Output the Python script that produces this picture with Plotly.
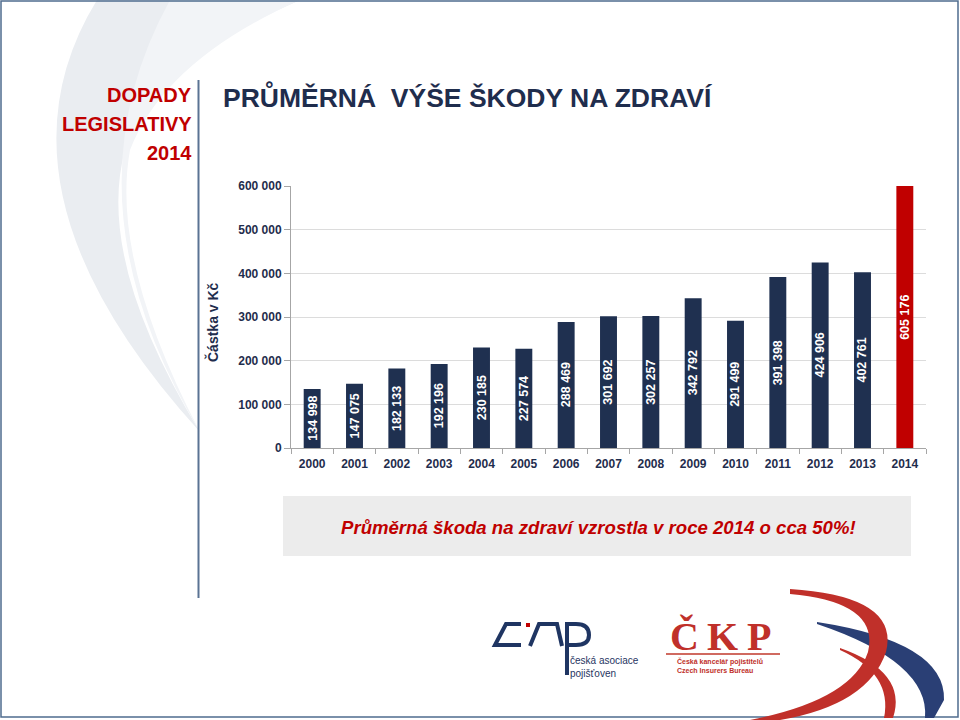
import plotly.graph_objects as go

# ---- data ----
years = ["2000", "2001", "2002", "2003", "2004", "2005", "2006", "2007",
         "2008", "2009", "2010", "2011", "2012", "2013", "2014"]
values = [134998, 147075, 182133, 192196, 230185, 227574, 288469, 301692,
          302257, 342792, 291499, 391398, 424906, 402761, 605176]
y_ticks = [0, 100000, 200000, 300000, 400000, 500000, 600000]
y_ticklabels = ["0", "100 000", "200 000", "300 000", "400 000", "500 000", "600 000"]
Y_MAX = 600000

NAVY = "#1f3050"
RED = "#c00000"
TXT = "#1f2d4d"

W, H = 960, 720
FONT = "Liberation Sans, Arial, sans-serif"


def px(x):
    return x / W


def py(y):
    return 1 - y / H


def path(points_cmds):
    out = []
    for cmd, pts in points_cmds:
        if cmd == "Z":
            out.append("Z")
            continue
        coords = " ".join(f"{px(x):.5f},{py(y):.5f}" for x, y in pts)
        out.append(f"{cmd} {coords}")
    return " ".join(out)


bar_colors = [NAVY] * (len(years) - 1) + [RED]
bar_text = [f"{v:,}".replace(",", " ") for v in values]

fig = go.Figure()
fig.add_trace(go.Bar(
    x=years, y=values,
    marker=dict(color=bar_colors, line=dict(width=0)),
    hoverinfo="skip",
))

shapes = []
# background crescent decoration
shapes.append(dict(type="path", xref="paper", yref="paper", layer="below",
                   path=path([("M", [(97, 0)]), ("Q", [(-20, 190), (200, 432)]),
                              ("Q", [(95, 260), (125, 150)]), ("Q", [(160, 60), (300, 0)]), ("Z", [])]),
                   fillcolor="#eaedf1", line=dict(width=0)))
shapes.append(dict(type="path", xref="paper", yref="paper", layer="below",
                   path=path([("M", [(170, 0)]), ("Q", [(60, 200), (200, 432)]),
                              ("Q", [(110, 260), (130, 150)]), ("Q", [(165, 60), (300, 0)]), ("Z", [])]),
                   fillcolor="#f2f4f7", line=dict(width=0)))
# slide border
shapes.append(dict(type="rect", xref="paper", yref="paper", x0=px(1), x1=px(958), y0=py(717), y1=py(1),
                   line=dict(color="#4f6c8f", width=1.5), fillcolor="rgba(0,0,0,0)"))
# vertical separator
shapes.append(dict(type="line", xref="paper", yref="paper", x0=px(198.5), x1=px(198.5), y0=py(80), y1=py(598),
                   line=dict(color="#5a7393", width=2)))
# grey message box
shapes.append(dict(type="rect", xref="paper", yref="paper", x0=px(283), x1=px(911), y0=py(556), y1=py(496),
                   fillcolor="#ececec", line=dict(width=0), layer="below"))
# CAP logo
cap_line = dict(color="#1f3562", width=4)
shapes.append(dict(type="path", xref="paper", yref="paper",
                   path=path([("M", [(521, 624)]), ("L", [(506, 624)]), ("L", [(495, 645)]), ("L", [(521, 645)])]),
                   line=cap_line))
shapes.append(dict(type="rect", xref="paper", yref="paper", x0=px(526), x1=px(530), y0=py(627), y1=py(623),
                   fillcolor="#c00000", line=dict(width=0)))
shapes.append(dict(type="path", xref="paper", yref="paper",
                   path=path([("M", [(530, 646)]), ("L", [(539, 624)]), ("L", [(557, 624)]), ("L", [(562, 646)])]),
                   line=cap_line))
shapes.append(dict(type="path", xref="paper", yref="paper",
                   path=path([("M", [(567, 675)]), ("L", [(567, 624)]), ("L", [(576, 624)]),
                              ("Q", [(589, 624), (589, 635)]), ("Q", [(589, 645), (576, 645)]),
                              ("L", [(567, 645)])]),
                   line=cap_line))
# CKP underline
shapes.append(dict(type="line", xref="paper", yref="paper", x0=px(666), x1=px(780), y0=py(654), y1=py(654),
                   line=dict(color="#c0392b", width=1.5)))
# bottom-right swoosh
shapes.append(dict(type="path", xref="paper", yref="paper",
                   path=path([("M", [(817, 622)]), ("Q", [(946, 642), (944, 700)]), ("L", [(934, 718)]),
                              ("L", [(925, 718)]), ("Q", [(930, 662), (817, 624)]), ("Z", [])]),
                   fillcolor="#2a3f75", line=dict(width=0)))
shapes.append(dict(type="path", xref="paper", yref="paper",
                   path=path([("M", [(840, 648)]), ("Q", [(908, 672), (893, 718)]), ("L", [(884, 718)]),
                              ("Q", [(893, 674), (840, 650)]), ("Z", [])]),
                   fillcolor="#c0302a", line=dict(width=0)))
shapes.append(dict(type="path", xref="paper", yref="paper",
                   path=path([("M", [(790, 589)]), ("Q", [(900, 596), (886, 652)]), ("Q", [(868, 705), (780, 720)]),
                              ("L", [(750, 720)]), ("Q", [(852, 700), (868, 652)]), ("Q", [(880, 602), (790, 594)]),
                              ("Z", [])]),
                   fillcolor="#c0302a", line=dict(width=0)))

annotations = []
# bar value labels (rotated, centred in the visible bar); category axis -> use category index
for i, (v, t) in enumerate(zip(values, bar_text)):
    annotations.append(dict(text=f"<b>{t}</b>", x=i, y=min(v, Y_MAX) / 2, xref="x", yref="y",
                            textangle=-90, showarrow=False, xanchor="center", yanchor="middle",
                            font=dict(family=FONT, size=12.5, color="white")))

for txt, yy in [("DOPADY", 95), ("LEGISLATIVY", 124), ("2014", 153)]:
    annotations.append(dict(text=txt, xref="paper", yref="paper", x=px(194), y=py(yy),
                            xanchor="right", yanchor="middle", showarrow=False,
                            font=dict(family=FONT, size=20, color=RED, weight="bold")))
annotations.append(dict(text="<b>PRŮMĚRNÁ\u00a0 VÝŠE ŠKODY NA ZDRAVÍ</b>", xref="paper", yref="paper",
                        x=px(221), y=py(97), xanchor="left", yanchor="middle", showarrow=False,
                        font=dict(family=FONT, size=26.5, color=TXT)))
annotations.append(dict(text="<b>Částka v Kč</b>", xref="paper", yref="paper", x=px(212), y=py(322),
                        xanchor="center", yanchor="middle", showarrow=False, textangle=-90,
                        font=dict(family=FONT, size=14, color=TXT)))
annotations.append(dict(text="<b><i>Průměrná škoda na zdraví vzrostla v roce 2014 o cca 50%!</i></b>",
                        xref="paper", yref="paper", x=px(598), y=py(527), xanchor="center",
                        yanchor="middle", showarrow=False,
                        font=dict(family=FONT, size=18.6, color=RED)))
annotations.append(dict(text="česká asociace<br>pojišťoven", xref="paper", yref="paper", x=px(568), y=py(667),
                        xanchor="left", yanchor="middle", showarrow=False, align="left",
                        font=dict(family=FONT, size=10, color="#1f3562")))
for ch, xx in [("Č", 684), ("K", 722), ("P", 759)]:
    annotations.append(dict(text=f"<b>{ch}</b>", xref="paper", yref="paper", x=px(xx), y=py(636),
                            xanchor="center", yanchor="middle", showarrow=False,
                            font=dict(family="Liberation Serif, DejaVu Serif, serif", size=40, color="#c0302a")))
annotations.append(dict(text="<b>Česká kancelář pojistitelů<br>Czech Insurers Bureau</b>", xref="paper", yref="paper",
                        x=px(675), y=py(665), xanchor="left", yanchor="middle", showarrow=False, align="left",
                        font=dict(family=FONT, size=7, color="#c0302a")))

fig.update_layout(
    width=W, height=H,
    margin=dict(l=0, r=0, t=0, b=0),
    paper_bgcolor="white", plot_bgcolor="rgba(0,0,0,0)",
    showlegend=False,
    bargap=0.6,
    xaxis=dict(domain=[px(291), px(926)], type="category", automargin=False,
               range=[-0.5, len(years) - 0.5],
               showline=True, linecolor="#a6a6a6", linewidth=1,
               ticks="outside", ticklen=5, tickcolor="#a6a6a6", tickson="boundaries",
               ticklabelstandoff=5,
               showgrid=False, zeroline=False,
               tickfont=dict(family=FONT, size=12, color=TXT, weight="bold")),
    yaxis=dict(domain=[py(448), py(186)], range=[0, Y_MAX], automargin=False,
               tickvals=y_ticks, ticktext=y_ticklabels,
               showline=True, linecolor="#a6a6a6", linewidth=1,
               ticks="outside", ticklen=6, tickcolor="#a6a6a6",
               showgrid=True, gridcolor="#dcdcdc", gridwidth=1, zeroline=False,
               tickfont=dict(family=FONT, size=12, color=TXT, weight="bold")),
    shapes=shapes,
    annotations=annotations,
)

fig.write_html("out.html")
